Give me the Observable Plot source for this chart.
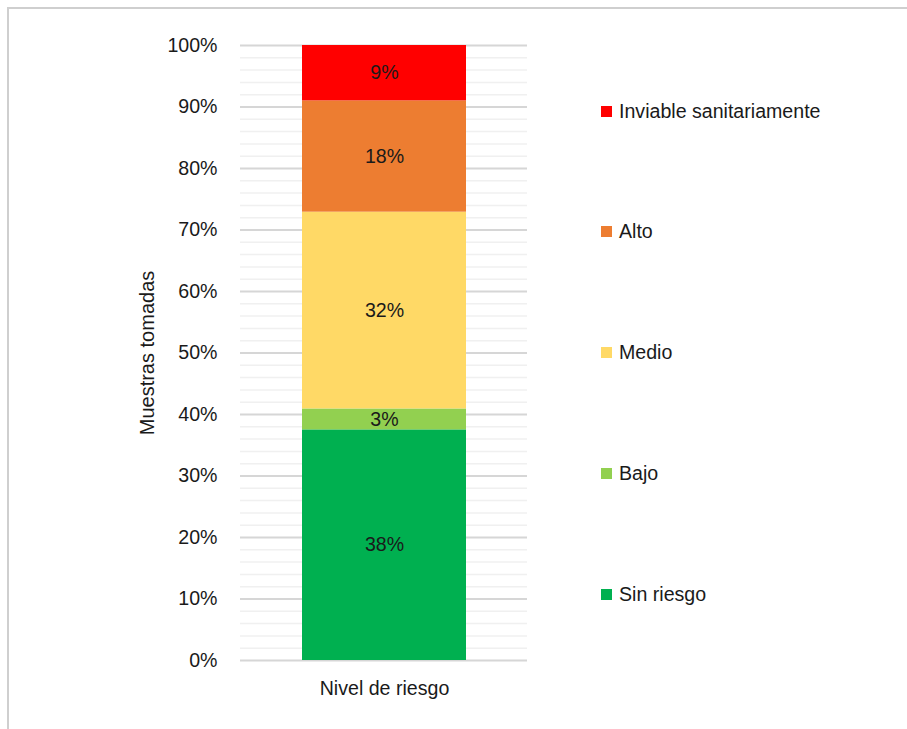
<!DOCTYPE html>
<html>
<head>
<meta charset="utf-8">
<script src="https://cdn.jsdelivr.net/npm/d3@7"></script>
<script src="https://cdn.jsdelivr.net/npm/@observablehq/plot@0.6"></script>
<style>
  html, body { margin: 0; padding: 0; background: #fff; }
  #wrap { position: relative; width: 907px; height: 729px; overflow: hidden;
          font-family: "Liberation Sans", Arial, sans-serif; color: #1a1a1a; }
  #frame { position: absolute; left: 7px; top: 7px; width: 960px; height: 780px; border: 2px solid #cfcfcf; box-sizing: border-box; }
  #chart { position: absolute; left: 0; top: 0; }
  #legend { position: absolute; left: 601px; top: 99px; }
  .item { display: flex; align-items: center; height: 24px; margin-bottom: 96.8px; font-size: 19.6px; white-space: nowrap; }
  .sw { width: 11px; height: 11px; margin-right: 7px; flex: none; }
</style>
</head>
<body>
<div id="wrap">
  <div id="frame"></div>
  <div id="chart"></div>
  <div id="legend"></div>
</div>
<script>
const categories = ["Nivel de riesgo"];
const levels = ["Sin riesgo", "Bajo", "Medio", "Alto", "Inviable sanitariamente"];
const values = [37.5, 3.4, 32.0, 18.1, 9.0];
const labels = ["38%", "3%", "32%", "18%", "9%"];
const colors = ["#00b050", "#92d050", "#ffd966", "#ed7d31", "#ff0000"];
const yLabel = "Muestras tomadas";

const data = levels.map((lev, i) => ({cat: categories[0], level: lev, value: values[i], label: labels[i]}));

const font = '"Liberation Sans", Arial, sans-serif';

const plot = Plot.plot({
  width: 907,
  height: 729,
  marginLeft: 240,
  marginRight: 380,
  marginTop: 45,
  marginBottom: 69,
  style: {fontFamily: font, fontSize: "19.6px", color: "#1a1a1a", background: "transparent"},
  x: {domain: categories, padding: 0.273, tickSize: 0, tickPadding: 21, label: null},
  y: {domain: [0, 100], ticks: 10, tickFormat: d => d + "%", tickSize: 0, tickPadding: 23, label: null},
  color: {domain: levels, range: colors},
  marks: [
    Plot.ruleY(d3.range(0, 101, 2).filter(d => d % 10 !== 0), {stroke: "#f0f0f0", strokeWidth: 1.5}),
    Plot.ruleY(d3.range(0, 101, 10), {stroke: "#d6d6d6", strokeWidth: 2}),
    Plot.barY(data, {x: "cat", y: "value", fill: "level"}),
    Plot.text(data, Plot.stackY({x: "cat", y: "value", text: "label", fill: "#1a1a1a", fontSize: 19.6})),
    Plot.text([yLabel], {frameAnchor: "left", dx: -93, rotate: -90, textAnchor: "middle", fontSize: 20, fill: "#1a1a1a"})
  ]
});
document.getElementById("chart").appendChild(plot);

const legend = document.getElementById("legend");
levels.map((lev, i) => ({lev, col: colors[i]})).reverse().forEach(d => {
  const item = document.createElement("div");
  item.className = "item";
  const sw = document.createElement("span");
  sw.className = "sw";
  sw.style.background = d.col;
  const tx = document.createElement("span");
  tx.textContent = d.lev;
  item.appendChild(sw);
  item.appendChild(tx);
  legend.appendChild(item);
});
</script>
</body>
</html>
